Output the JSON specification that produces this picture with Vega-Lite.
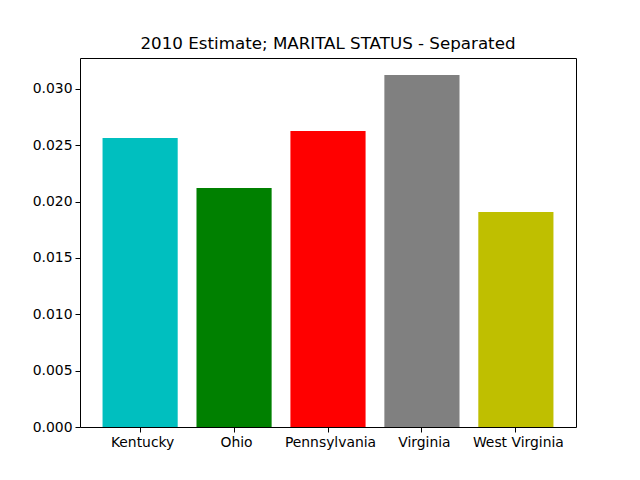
{
  "$schema": "https://vega.github.io/schema/vega-lite/v6.json",
  "width": 496,
  "height": 369,
  "autosize": {"type": "none"},
  "padding": {"left": 80, "top": 58, "right": 64, "bottom": 53},
  "background": "white",
  "title": {"text": "2010 Estimate; MARITAL STATUS - Separated", "font": "DejaVu Sans", "fontSize": 16.7, "fontWeight": "normal", "color": "black", "offset": 5, "anchor": "middle"},
  "config": {"view": {"stroke": "black", "strokeWidth": 1}},
  "data": {"values": [
    {"state": "Kentucky", "value": 0.02565},
    {"state": "Ohio", "value": 0.02121},
    {"state": "Pennsylvania", "value": 0.02627},
    {"state": "Virginia", "value": 0.03124},
    {"state": "West Virginia", "value": 0.01908}
  ]},
  "mark": {"type": "bar"},
  "encoding": {
    "x": {"field": "state", "type": "nominal", "sort": null,
      "scale": {"paddingInner": 0.2, "paddingOuter": 0.24},
      "axis": {"title": null, "labelAngle": 0, "labelFont": "DejaVu Sans", "labelFontSize": 13.9, "labelColor": "black", "tickColor": "black", "tickSize": 5, "domain": false, "labelPadding": 3, "labelAlign": "center", "labelOffset": 2.5}},
    "y": {"field": "value", "type": "quantitative",
      "scale": {"domain": [0, 0.03275], "nice": false, "zero": true},
      "axis": {"title": null, "values": [0, 0.005, 0.01, 0.015, 0.02, 0.025, 0.03], "format": ".3f", "grid": false, "labelFont": "DejaVu Sans", "labelFontSize": 13.9, "labelColor": "black", "tickColor": "black", "tickSize": 5, "domain": false, "labelPadding": 3}},
    "color": {"field": "state", "type": "nominal", "legend": null,
      "scale": {"domain": ["Kentucky", "Ohio", "Pennsylvania", "Virginia", "West Virginia"], "range": ["#00bfbf", "#008000", "#ff0000", "#808080", "#bfbf00"]}}
  }
}
